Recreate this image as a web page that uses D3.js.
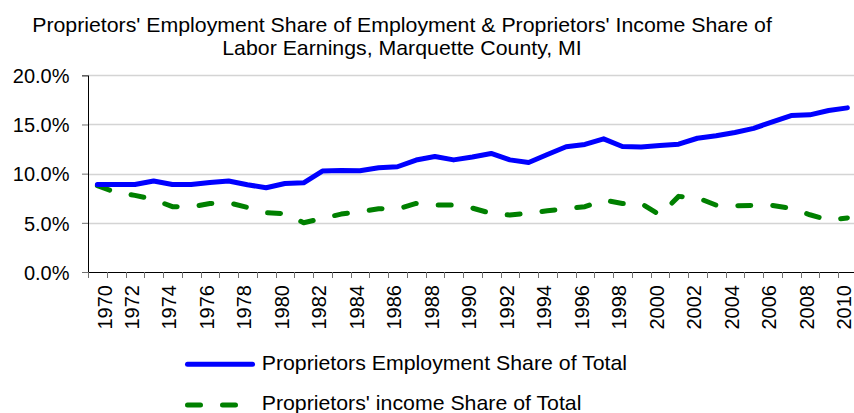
<!DOCTYPE html>
<html>
<head>
<meta charset="utf-8">
<script src="https://cdn.jsdelivr.net/npm/d3@7"></script>
<style>
  html, body { margin: 0; padding: 0; background: #fff; }
  svg { display: block; font-family: "Liberation Sans", Arial, sans-serif; }
</style>
</head>
<body>
<div class="chart"></div>
<script>
// values (percent)
const years = d3.range(1970, 2011);
const employmentShare = [
  8.9, 8.9, 8.9, 9.25, 8.9, 8.9, 9.1, 9.25, 8.87, 8.57,
  9.0, 9.07, 10.26, 10.33, 10.3, 10.6, 10.7, 11.38, 11.75, 11.4,
  11.7, 12.05, 11.4, 11.14, 11.95, 12.73, 12.97, 13.54, 12.76, 12.7,
  12.86, 13.0, 13.6, 13.85, 14.19, 14.6, 15.27, 15.91, 15.98, 16.42,
  16.69
];
const incomeShare = [
  8.77, 8.1, 7.79, 7.38, 6.64, 6.6, 6.97, 7.04, 6.57, 6.03,
  5.93, 5.01, 5.45, 5.89, 6.13, 6.43, 6.4, 6.97, 6.8, 6.8,
  6.5, 5.96, 5.79, 5.99, 6.23, 6.43, 6.64, 7.31, 6.97, 6.97,
  5.79, 7.69, 7.55, 6.8, 6.74, 6.77, 6.77, 6.47, 5.82, 5.28,
  5.5
];
const yTicks = [0, 0.05, 0.10, 0.15, 0.20];
const titleLines = [
  "Proprietors' Employment Share of Employment & Proprietors' Income Share of",
  "Labor Earnings, Marquette County, MI"
];
const legendLabels = [
  "Proprietors Employment Share of Total",
  "Proprietors' income Share of Total"
];

function app() {
  const W = 854;
  const H = 413;
  const LEFT = 88;
  const TOP = 75.3;
  const BOTTOM = 272;
  const STEP = 18.75;
  const RIGHT = LEFT + years.length * STEP;   // runs off the frame, as in the reference
  const FONT = 20;
  const STRETCH = 1.065;
  const BLUE = "#0000ff";
  const GREEN = "#008000";

  const svg = d3.select(".chart")
    .append("svg")
    .attr("width", W)
    .attr("height", H);

  const x = d3.scaleBand().domain(years).range([LEFT, RIGHT]);
  const y = d3.scaleLinear().domain([0, 0.2]).range([BOTTOM, TOP]);
  const cx = (d) => x(d) + x.bandwidth() / 2;

  // title
  titleLines.forEach((t, i) => {
    svg.append("g")
      .attr("transform", `translate(402,${31.7 + i * 23.3}) scale(${STRETCH},1)`)
      .append("text")
      .attr("text-anchor", "middle")
      .attr("font-size", FONT)
      .attr("fill", "#000")
      .text(t);
  });

  // gridlines
  svg.append("g")
    .selectAll("line")
    .data(yTicks.filter((d) => d > 0))
    .enter()
    .append("line")
    .attr("x1", LEFT)
    .attr("x2", RIGHT)
    .attr("y1", (d) => Math.round(y(d)) + 0.5)
    .attr("y2", (d) => Math.round(y(d)) + 0.5)
    .attr("stroke", "#d4d4d4")
    .attr("stroke-width", 1.3);

  // y axis
  const yAxis = svg.append("g")
    .attr("transform", `translate(${LEFT},0)`)
    .call(d3.axisLeft(y)
      .tickValues(yTicks)
      .tickFormat(d3.format(".1%"))
      .tickSize(6)
      .tickPadding(12.5));
  yAxis.select(".domain").attr("stroke", "#000");
  yAxis.selectAll(".tick line").attr("stroke", "#707070");
  yAxis.selectAll(".tick text")
    .attr("font-size", FONT)
    .attr("font-family", "Liberation Sans, Arial, sans-serif")
    .attr("fill", "#000")
    .attr("dy", "0.36em");

  // x axis: labels on even years, ticks between categories
  const xAxis = svg.append("g")
    .attr("transform", `translate(0,${BOTTOM})`)
    .call(d3.axisBottom(x)
      .tickValues(years.filter((d) => d % 2 === 0))
      .tickSize(0)
      .tickSizeOuter(0));
  xAxis.select(".domain").attr("stroke", "#000");
  // the first label sits a little right of its slot in the reference
  xAxis.selectAll(".tick text")
    .attr("font-size", FONT)
    .attr("font-family", "Liberation Sans, Arial, sans-serif")
    .attr("fill", "#000")
    .attr("text-anchor", "end")
    .attr("transform", "rotate(-90)")
    .attr("x", -13)
    .attr("y", (d) => d === years[0] ? 14.9 : 4)
    .attr("dy", 0);

  xAxis.append("g")
    .selectAll("line")
    .data(d3.range(years.length + 1))
    .enter()
    .append("line")
    .attr("x1", (i) => Math.round(LEFT + i * STEP) + 0.5)
    .attr("x2", (i) => Math.round(LEFT + i * STEP) + 0.5)
    .attr("y1", 0)
    .attr("y2", 6)
    .attr("stroke", "#707070");

  // series
  const line = (vals) => d3.line()
    .x((d, i) => cx(years[i]))
    .y((d) => y(d / 100))(vals);

  svg.append("path")
    .attr("d", line(incomeShare))
    .attr("fill", "none")
    .attr("stroke", GREEN)
    .attr("stroke-width", 5)
    .attr("stroke-linecap", "round")
    .attr("stroke-linejoin", "round")
    .attr("stroke-dasharray", "13,22");

  svg.append("path")
    .attr("d", line(employmentShare))
    .attr("fill", "none")
    .attr("stroke", BLUE)
    .attr("stroke-width", 5)
    .attr("stroke-linecap", "round")
    .attr("stroke-linejoin", "round");

  // legend
  const legend = svg.append("g");
  legend.append("line")
    .attr("x1", 187.5).attr("x2", 252.5)
    .attr("y1", 364.3).attr("y2", 364.3)
    .attr("stroke", BLUE)
    .attr("stroke-width", 5)
    .attr("stroke-linecap", "round");
  legend.append("line")
    .attr("x1", 187.5).attr("x2", 236.5)
    .attr("y1", 405).attr("y2", 405)
    .attr("stroke", GREEN)
    .attr("stroke-width", 5)
    .attr("stroke-linecap", "round")
    .attr("stroke-dasharray", "13,22");

  legendLabels.forEach((t, i) => {
    legend.append("g")
      .attr("transform", `translate(261.7,${370 + i * 40}) scale(${STRETCH},1)`)
      .append("text")
      .attr("font-size", FONT)
      .attr("fill", "#000")
      .text(t);
  });
}

app();
</script>
</body>
</html>
